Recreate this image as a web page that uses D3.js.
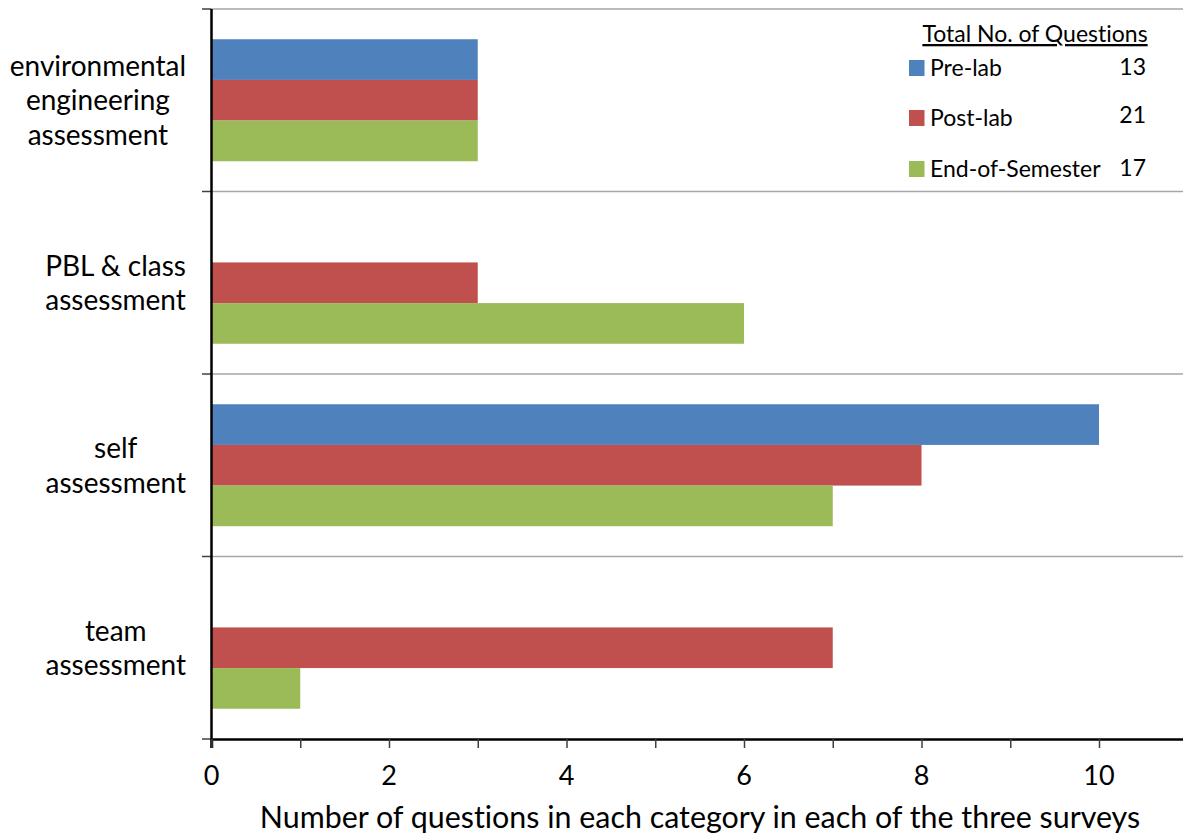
<!DOCTYPE html>
<html>
<head>
<meta charset="utf-8">
<script src="https://cdn.jsdelivr.net/npm/d3@7"></script>
<style>
  body { margin: 0; background: #fff; }
  svg text { font-family: Lato, "Open Sans", sans-serif; fill: #000; font-variant-ligatures: none; }
</style>
</head>
<body>
<svg id="chart" width="1183" height="837"></svg>
<script>
var categories = ["environmental engineering assessment", "PBL & class assessment", "self assessment", "team assessment"];
var categoryLines = [["environmental", "engineering", "assessment"], ["PBL & class", "assessment"], ["self", "assessment"], ["team", "assessment"]];
var series = ["Pre-lab", "Post-lab", "End-of-Semester"];
var preLab = [3, 0, 10, 0];
var postLab = [3, 3, 8, 7];
var endOfSemester = [3, 6, 7, 1];
var totals = [13, 21, 17];
var xTicks = [0, 2, 4, 6, 8, 10];
var colors = ["#4F81BD", "#C0504D", "#9BBB59"];
var values = [preLab, postLab, endOfSemester];

var svg = d3.select("#chart");

var x = d3.scaleLinear().domain([0, 11]).range([211.5, 211.5 + 11 * 88.75]);
var y0 = d3.scaleBand().domain(categories).range([9, 739]).padding(0);
var y1 = d3.scaleBand().domain(series).range([0, y0.bandwidth()]).paddingInner(0).paddingOuter(0.744);

// category separators
var bounds = categories.map(function(c){ return y0(c); }).concat([739]);
svg.append("g").selectAll("line").data(bounds.slice(0, 4)).join("line")
  .attr("x1", 211).attr("x2", 1183)
  .attr("y1", function(d){ return d; }).attr("y2", function(d){ return d; })
  .attr("stroke", "#a6a6a6").attr("stroke-width", 1.5);

// bars
categories.forEach(function(cat, ci){
  var g = svg.append("g").attr("transform", "translate(0," + y0(cat) + ")");
  series.forEach(function(s, si){
    g.append("rect")
      .attr("x", x(0))
      .attr("y", y1(s))
      .attr("width", x(values[si][ci]) - x(0))
      .attr("height", y1.bandwidth())
      .attr("fill", colors[si]);
  });
});

// y axis ticks and line
svg.append("g").selectAll("line").data(bounds).join("line")
  .attr("x1", 202).attr("x2", 211)
  .attr("y1", function(d){ return d; }).attr("y2", function(d){ return d; })
  .attr("stroke", "#404040").attr("stroke-width", 1.5);
svg.append("line").attr("x1", 211.5).attr("x2", 211.5).attr("y1", 9).attr("y2", 748)
  .attr("stroke", "#000").attr("stroke-width", 2.5);

// x axis
var xAxis = d3.axisBottom(x).tickValues(d3.range(0, 12)).tickSize(9).tickFormat("");
var ax = svg.append("g").attr("transform", "translate(0,739)").call(xAxis);
ax.select(".domain").attr("stroke", "#000").attr("stroke-width", 2.5);
ax.selectAll(".tick line").attr("stroke", "#404040").attr("stroke-width", 1.5);

svg.append("g").selectAll("text").data(xTicks).join("text")
  .attr("x", function(d){ return x(d); })
  .attr("y", 785)
  .attr("text-anchor", "middle")
  .attr("font-size", 27)
  .text(function(d){ return d; });

svg.append("text")
  .attr("x", 700).attr("y", 828)
  .attr("text-anchor", "middle")
  .attr("font-size", 30.4)
  .text("Number of questions in each category in each of the three surveys");

// category labels, block right-aligned, lines centred
var lineH = 34.5;
categories.forEach(function(cat, ci){
  var lines = categoryLines[ci];
  var cy = y0(cat) + y0.bandwidth() / 2;
  var g = svg.append("g");
  var texts = lines.map(function(l, li){
    return g.append("text")
      .attr("font-size", 28)
      .attr("text-anchor", "middle")
      .attr("y", cy + (li - (lines.length - 1) / 2) * lineH + 10)
      .text(l);
  });
  var maxW = d3.max(texts, function(t){ return t.node().getComputedTextLength(); });
  texts.forEach(function(t){ t.attr("x", 186 - maxW / 2); });
});

// legend
var leg = svg.append("g");
leg.append("text")
  .attr("x", 1035).attr("y", 42)
  .attr("text-anchor", "middle")
  .attr("font-size", 23)
  .attr("text-decoration", "underline")
  .text("Total No. of Questions");
var legY = [68, 118, 169];
series.forEach(function(s, si){
  leg.append("rect")
    .attr("x", 909).attr("y", legY[si] - 8)
    .attr("width", 15.5).attr("height", 16)
    .attr("fill", colors[si]);
  leg.append("text")
    .attr("x", 930).attr("y", legY[si] + 8)
    .attr("font-size", 23)
    .text(s);
  leg.append("text")
    .attr("x", 1146).attr("y", legY[si] + (si === 1 ? 5 : 7))
    .attr("text-anchor", "end")
    .attr("font-size", 23)
    .text(totals[si]);
});
</script>
</body>
</html>
